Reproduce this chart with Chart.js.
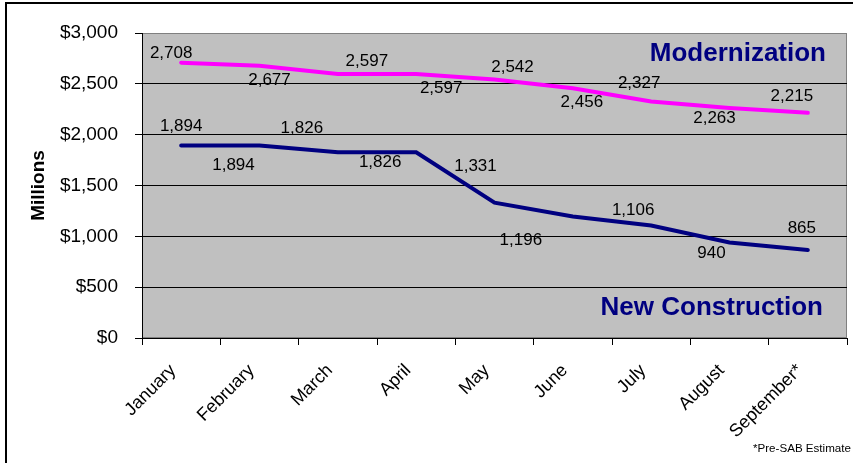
<!DOCTYPE html>
<html>
<head>
<meta charset="utf-8">
<script src="https://cdn.jsdelivr.net/npm/chart.js@4"></script>
<style>
  body { margin: 0; background: #fff; }
  #wrap { position: relative; width: 853px; height: 463px; overflow: hidden; }
  #frame { position: absolute; left: 5px; top: 2px; width: 900px; height: 500px;
           border-top: 2px solid #000; border-left: 2px solid #000; pointer-events: none; }
  #note { position: absolute; left: 753px; top: 441px; white-space: nowrap;
          font: 11.6px Arial, "Liberation Sans", sans-serif; color: #000; }
</style>
</head>
<body>
<div id="wrap">
  <canvas id="myChart" width="853" height="463"></canvas>
  <div id="frame"></div>
  <div id="note">*Pre-SAB Estimate</div>
</div>
<script>
const months = ['January', 'February', 'March', 'April', 'May', 'June', 'July', 'August', 'September*'];
const modernization = [2708, 2677, 2597, 2597, 2542, 2456, 2327, 2263, 2215];
const newConstruction = [1894, 1894, 1826, 1826, 1331, 1196, 1106, 940, 865];

const FONT = 'Arial, "Liberation Sans", sans-serif';

// where each value label sits, relative to its point (dx, dy)
const labelOffsets = [
  [[-10, -9], [10, 14], [29, -13], [25, 14], [18, -12], [9, 14], [-12, -18], [-15, 10], [-16, -16]],
  [[0, -19], [-26, 20], [-36, -24], [-36, 10], [-19, -36], [-52, 24], [-18, -15], [-18, 11], [-6, -22]]
];

const plotBg = {
  id: 'plotBg',
  beforeDraw(chart) {
    const {ctx, chartArea: a} = chart;
    ctx.save();
    ctx.fillStyle = '#C0C0C0';
    ctx.fillRect(a.left, a.top, a.right - a.left, a.bottom - a.top);
    ctx.strokeStyle = '#808080';
    ctx.lineWidth = 1;
    ctx.strokeRect(a.left + 0.5, a.top + 0.5, a.right - a.left - 1, a.bottom - a.top - 1);
    ctx.restore();
  }
};

const valueLabels = {
  id: 'valueLabels',
  afterDatasetsDraw(chart) {
    const {ctx, chartArea: a} = chart;
    ctx.save();
    ctx.font = '17px ' + FONT;
    ctx.fillStyle = '#000';
    ctx.textAlign = 'center';
    ctx.textBaseline = 'middle';
    chart.data.datasets.forEach((ds, i) => {
      chart.getDatasetMeta(i).data.forEach((pt, j) => {
        const off = labelOffsets[i][j];
        ctx.fillText(ds.data[j].toLocaleString('en-US'), pt.x + off[0], pt.y + off[1]);
      });
    });
    // series names
    ctx.font = 'bold 26px ' + FONT;
    ctx.fillStyle = '#000080';
    ctx.textAlign = 'right';
    ctx.fillText('Modernization', a.right - 21, a.top + 21);
    ctx.fillText('New Construction', a.right - 24, a.top + 275);
    ctx.restore();
  }
};

new Chart(document.getElementById('myChart'), {
  type: 'line',
  data: {
    labels: months,
    datasets: [{
      label: 'Modernization',
      data: modernization,
      borderColor: '#FF00FF',
      borderWidth: 4,
      borderCapStyle: 'round',
      pointRadius: 0,
      tension: 0
    }, {
      label: 'New Construction',
      data: newConstruction,
      borderColor: '#000080',
      borderWidth: 4,
      borderCapStyle: 'round',
      pointRadius: 0,
      tension: 0
    }]
  },
  options: {
    responsive: false,
    animation: false,
    layout: { padding: { top: 33, right: 6, left: 0, bottom: 0 } },
    plugins: { legend: { display: false }, tooltip: { enabled: false } },
    scales: {
      x: {
        offset: true,
        grid: { offset: true, drawOnChartArea: false, tickLength: 7, color: '#000' },
        border: { color: '#000' },
        ticks: {
          color: '#000',
          font: { family: FONT, size: 18 },
          maxRotation: 45,
          minRotation: 45,
          padding: 15,
          labelOffset: -8
        },
        afterFit(scale) { scale.height = 125; }
      },
      y: {
        min: 0,
        max: 3000,
        ticks: {
          stepSize: 500,
          color: '#000',
          padding: 17,
          font: { family: FONT, size: 19 },
          callback: v => '$' + v.toLocaleString('en-US')
        },
        grid: {
          tickLength: 7,
          tickColor: '#000',
          color: c => c.tick && c.tick.value === 3000 ? '#808080' : '#000'
        },
        border: { color: '#000' },
        title: {
          display: true,
          text: 'Millions',
          color: '#000',
          font: { family: FONT, size: 19, weight: 'bold' },
          padding: { top: 27, bottom: 0 }
        },
        afterFit(scale) { scale.width = 142; }
      }
    }
  },
  plugins: [plotBg, valueLabels]
});
</script>
</body>
</html>
